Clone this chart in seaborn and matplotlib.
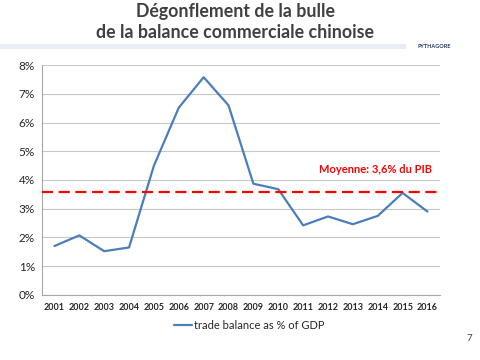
import numpy as np
import pandas as pd
import matplotlib
matplotlib.use("Agg")
import matplotlib.pyplot as plt
import seaborn as sns

years = [str(y) for y in range(2001, 2017)]
trade_balance = [1.70, 2.07, 1.52, 1.65, 4.50, 6.52, 7.58, 6.60,
                 3.87, 3.68, 2.42, 2.73, 2.46, 2.75, 3.55, 2.90]
mean_value = 3.58
mean_label = "Moyenne: 3,6% du PIB"
series_label = "trade balance as % of GDP"
title = "Dégonflement de la bulle\nde la balance commerciale chinoise"

sns.set_theme(style="white")
plt.rcParams['font.family'] = ['Lato', 'DejaVu Sans']

df = pd.DataFrame({"pos": np.arange(len(years)), "value": trade_balance})

fig = plt.figure(figsize=(4.8, 3.6), dpi=100)
ax = fig.add_axes([0.0875, 0.181, 0.829, 0.638])

sns.lineplot(data=df, x="pos", y="value", ax=ax, color="#4A7EBB",
             linewidth=1.6, label=series_label, legend=False)
ax.axhline(mean_value, color="#FF0000", linestyle=(0, (5, 2.5)), linewidth=1.6, zorder=3)

ax.set_xlim(-0.5, len(years) - 0.5)
ax.set_ylim(0, 8)
ax.set_yticks(range(0, 9))
ax.set_yticklabels([f"{v}%" for v in range(0, 9)], fontsize=8.5, color="#262626")
ax.set_xticks(df["pos"])
ax.set_xticklabels(years, fontsize=6.5, fontweight="bold", color="#262626")
ax.set_xticks(np.arange(-0.5, len(years)), minor=True)
ax.tick_params(axis="x", which="major", length=0, pad=6)
ax.tick_params(axis="x", which="minor", length=3, color="#A6A6A6", width=0.8)
ax.tick_params(axis="y", length=3, color="#A6A6A6", width=0.8, pad=2)
ax.set_xlabel("")
ax.set_ylabel("")
ax.grid(axis="y", color="#C8C8C8", linewidth=0.8)
ax.set_axisbelow(True)
for side in ["top", "right"]:
    ax.spines[side].set_visible(False)
for side in ["left", "bottom"]:
    ax.spines[side].set_color("#A6A6A6")
    ax.spines[side].set_linewidth(0.8)

ax.text(12.9, 4.35, mean_label, color="#FF0000", fontsize=8, fontweight="bold",
        ha="center", va="center",
        bbox=dict(facecolor="white", edgecolor="none", pad=2))

handles, labels = ax.get_legend_handles_labels()
fig.legend(handles, labels, loc="center", bbox_to_anchor=(0.52, 0.097),
           frameon=False, fontsize=8, handlelength=1.6, handletextpad=0.2)

fig.text(0.49, 0.992, title, ha="center", va="top", fontsize=12.8,
         fontweight="bold", color="#404040", linespacing=1.3)

# thin band under the title
fig.patches.append(plt.Rectangle((0, 0.864), 0.845, 0.014, transform=fig.transFigure,
                                 facecolor="#E9ECF4", edgecolor="none"))
fig.text(0.905, 0.87, "PYTHAGORE", ha="center", va="center", fontsize=4,
         color="#1F3864", fontweight="bold")
fig.text(0.978, 0.06, "7", ha="center", va="center", fontsize=7, color="#404040")

fig.savefig("out.png", dpi=100)
